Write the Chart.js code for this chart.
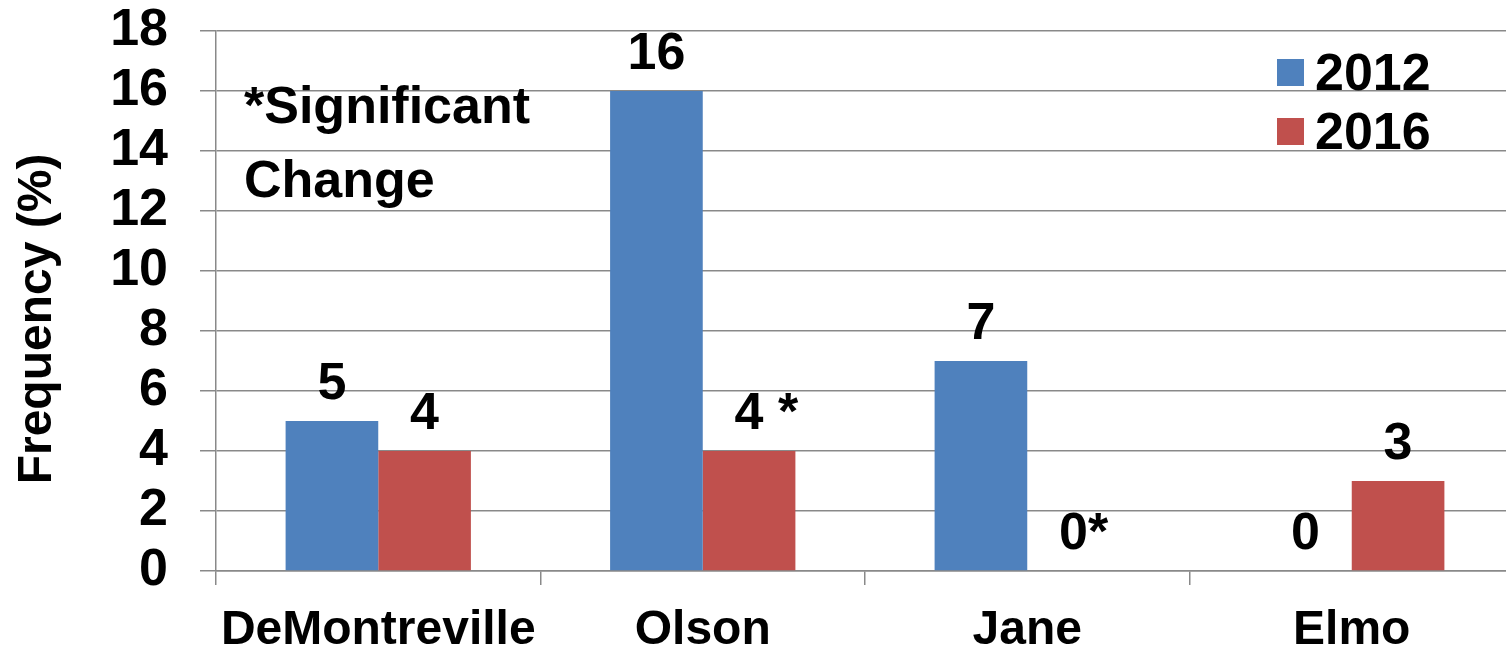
<!DOCTYPE html>
<html>
<head>
<meta charset="utf-8">
<script src="https://cdn.jsdelivr.net/npm/chart.js@4.4.1/dist/chart.umd.min.js"></script>
<style>
  html, body { margin: 0; padding: 0; background: #fff; overflow: hidden; }
  #wrap { position: absolute; left: 0; top: 0; width: 1530px; height: 650px; }
</style>
</head>
<body>
<div id="wrap"><canvas id="chart"></canvas></div>
<script>
const categories = ['DeMontreville', 'Olson', 'Jane', 'Elmo'];
const years = ['2012', '2016'];
const freq2012 = [5, 16, 7, 0];
const freq2016 = [4, 4, 0, 3];
// asterisks after the 2016 values that changed significantly
const sigMarks2016 = ['', ' *', '*', ''];
const yMin = 0;
const yMax = 18;
const yStep = 2;

const FONT = '"Liberation Sans", Arial, Helvetica, sans-serif';
const GRID = '#898989';

const ctx = document.getElementById('chart');

// value labels, the note, legend and the y axis title
const extras = {
    id: 'extras',
    afterDatasetsDraw(chart) {
        const c = chart.ctx;
        c.save();
        c.fillStyle = '#000';
        c.font = 'bold 52px ' + FONT;
        c.textBaseline = 'alphabetic';

        const marks = [[], sigMarks2016];
        chart.data.datasets.forEach((ds, i) => {
            chart.getDatasetMeta(i).data.forEach((bar, j) => {
                const txt = String(ds.data[j]);
                const w = c.measureText(txt).width;
                c.textAlign = 'center';
                c.fillText(txt, bar.x, bar.y - 22);
                const m = marks[i][j];
                if (m) {
                    c.textAlign = 'left';
                    c.fillText(m, bar.x + w / 2, bar.y - 22);
                }
            });
        });

        c.textAlign = 'left';
        c.fillText('*Significant', 244, 123);
        c.fillText('Change', 244, 197);

        chart.data.datasets.forEach((ds, i) => {
            const y = 59 + i * 59;
            c.fillStyle = ds.backgroundColor;
            c.fillRect(1277, y, 27, 27);
            c.fillStyle = '#000';
            c.fillText(ds.label, 1315, y + 31);
        });

        c.font = 'bold 48px ' + FONT;
        c.translate(51, 319);
        c.rotate(-Math.PI / 2);
        c.textAlign = 'center';
        c.fillText('Frequency (%)', 0, 0);
        c.restore();
    }
};

new Chart(ctx, {
    type: 'bar',
    data: {
        labels: categories,
        datasets: [{
            label: years[0],
            data: freq2012,
            backgroundColor: '#4F81BD',
            categoryPercentage: 0.571,
            barPercentage: 1.0
        }, {
            label: years[1],
            data: freq2016,
            backgroundColor: '#C0504D',
            categoryPercentage: 0.571,
            barPercentage: 1.0
        }]
    },
    options: {
        responsive: true,
        maintainAspectRatio: false,
        animation: false,
        layout: { padding: { top: 31, right: 16, bottom: 0, left: 0 } },
        plugins: {
            legend: { display: false },
            tooltip: { enabled: false }
        },
        scales: {
            x: {
                grid: {
                    offset: true,
                    drawOnChartArea: false,
                    drawTicks: true,
                    tickLength: 14,
                    color: GRID,
                    lineWidth: 1.5
                },
                border: { display: true, color: GRID, width: 1.5 },
                ticks: {
                    color: '#000',
                    padding: 22,
                    font: { family: FONT, size: 48, weight: 'bold', lineHeight: 1.0 }
                },
                afterFit(scale) { scale.height = 79; }
            },
            y: {
                min: yMin,
                max: yMax,
                grid: {
                    color: GRID,
                    lineWidth: 1.5,
                    tickLength: 16
                },
                border: { display: true, color: GRID, width: 1.5 },
                ticks: {
                    stepSize: yStep,
                    color: '#000',
                    padding: 32,
                    font: { family: FONT, size: 52, weight: 'bold', lineHeight: 1.0 }
                },
                afterFit(scale) {
                    scale.width = 216;
                    // the layout padding already leaves room for the end labels
                    scale.paddingTop = 0;
                    scale.paddingBottom = 0;
                }
            }
        }
    },
    plugins: [extras]
});
</script>
</body>
</html>
